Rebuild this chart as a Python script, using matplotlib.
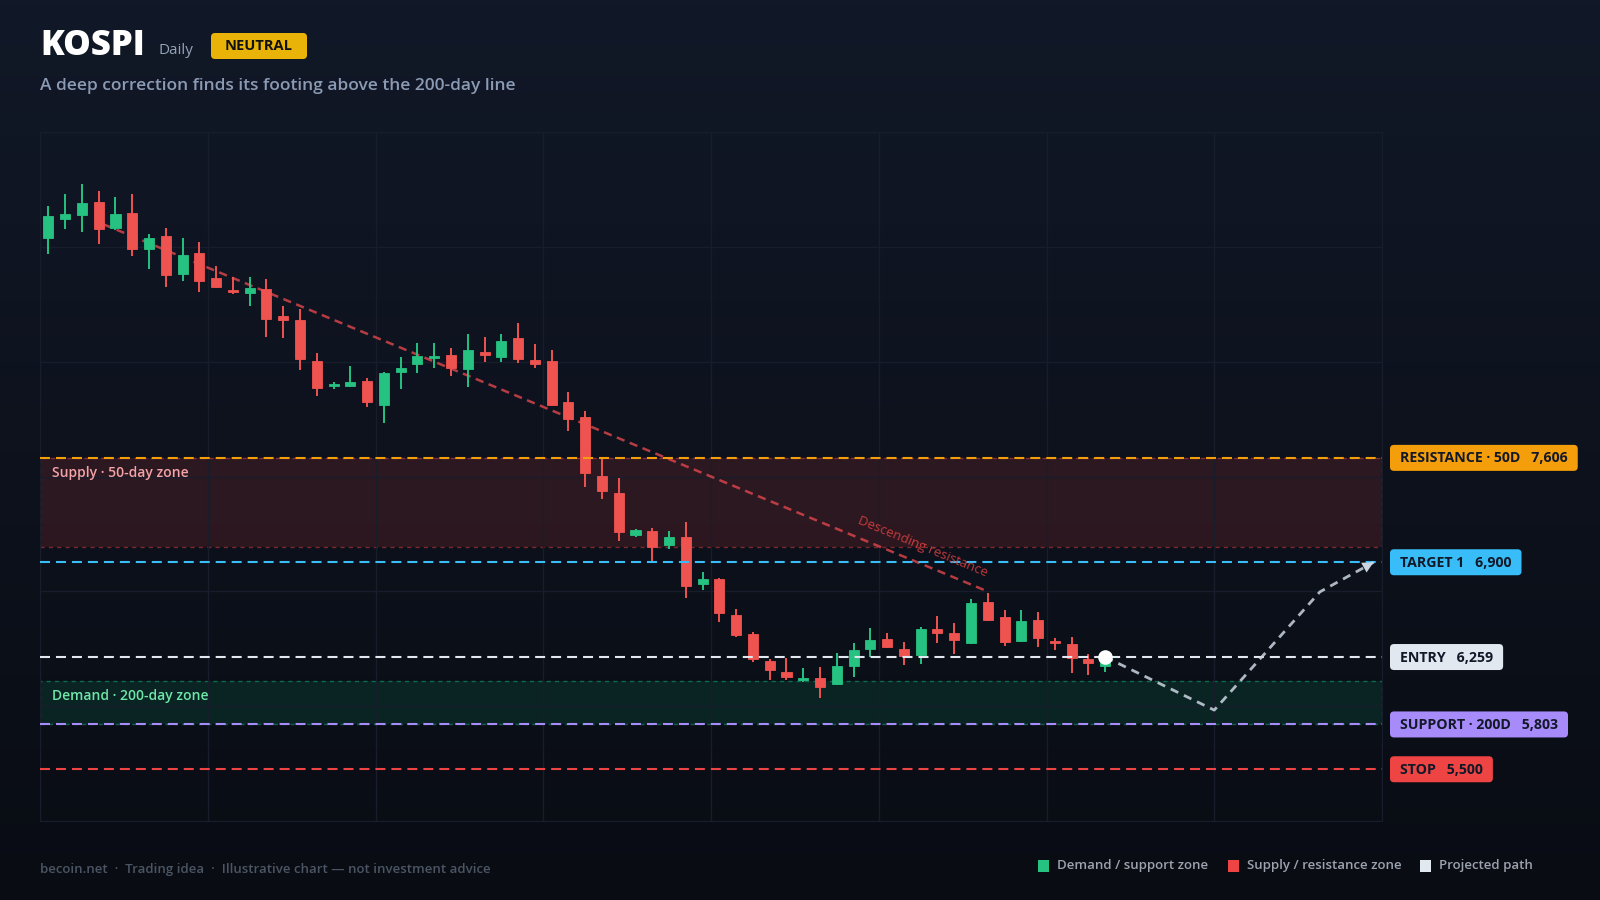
import numpy as np
import matplotlib
matplotlib.use("Agg")
import matplotlib.pyplot as plt
from matplotlib.patches import FancyBboxPatch, Rectangle
from matplotlib.transforms import IdentityTransform, blended_transform_factory

plt.rcParams["font.family"] = ["Open Sans", "DejaVu Sans"]
plt.rcParams["lines.scale_dashes"] = False

# ---- data (daily candles) ----
opens = [9090, 9223, 9252, 9335, 9162, 9261, 9016, 9106, 8851, 8995,
         8824, 8738, 8718, 8745, 8568, 8538, 8260, 8094, 8093, 8125,
         7963, 8190, 8240, 8279, 8299, 8204, 8321, 8285, 8418, 8267,
         8260, 7985, 7882, 7483, 7370, 7082, 7113, 7016, 7070, 6751,
         6787, 6541, 6415, 6230, 6158, 6102, 6117, 6075, 6200, 6315,
         6381, 6311, 6273, 6449, 6424, 6356, 6629, 6528, 6365, 6509,
         6367, 6345, 6244, 6198]
highs = [9310, 9390, 9455, 9410, 9367, 9390, 9117, 9158, 9092, 9065,
         8903, 8830, 8830, 8815, 8636, 8610, 8312, 8121, 8227, 8148,
         8188, 8285, 8380, 8380, 8346, 8441, 8421, 8441, 8515, 8373,
         8335, 8051, 7925, 7603, 7467, 7123, 7129, 7111, 7170, 6832,
         6795, 6584, 6426, 6244, 6250, 6183, 6194, 6284, 6352, 6453,
         6422, 6359, 6462, 6536, 6487, 6651, 6690, 6575, 6575, 6561,
         6390, 6397, 6277, 6275]
lows = [8982, 9151, 9133, 9054, 9150, 8968, 8885, 8763, 8799, 8729,
        8757, 8711, 8634, 8424, 8419, 8200, 8024, 8069, 8087, 7947,
        7843, 8073, 8177, 8211, 8161, 8082, 8256, 8252, 8249, 8215,
        7956, 7789, 7411, 7325, 7046, 7072, 6904, 6989, 6656, 6712,
        6498, 6397, 6228, 6104, 6104, 6092, 5980, 6070, 6126, 6259,
        6322, 6207, 6210, 6352, 6277, 6347, 6505, 6336, 6359, 6329,
        6306, 6153, 6137, 6155]
closes = [9239, 9256, 9333, 9155, 9256, 9020, 9094, 8840, 8975, 8799,
          8763, 8727, 8758, 8542, 8539, 8274, 8076, 8105, 8118, 7985,
          8177, 8217, 8294, 8290, 8215, 8333, 8303, 8394, 8272, 8240,
          7963, 7870, 7506, 7382, 7102, 7116, 7001, 7069, 6741, 6785,
          6555, 6408, 6244, 6169, 6122, 6112, 6054, 6196, 6307, 6376,
          6329, 6268, 6447, 6424, 6372, 6622, 6509, 6363, 6501, 6386,
          6352, 6250, 6217, 6259]

level_names = ["RESISTANCE · 50D", "TARGET 1", "ENTRY", "SUPPORT · 200D", "STOP"]
level_values = [7606, 6900, 6259, 5803, 5500]

supply_zone = [7000, 7606]
demand_zone = [5803, 6100]

trend_x = [3.3, 55.9]
trend_y = [9185, 6707]

path_x = [63, 69.5, 75.8, 79]
path_y = [6259, 5900, 6700, 6900]

legend_labels = ["Demand / support zone", "Supply / resistance zone", "Projected path"]

# ---- style ----
W, H = 1600, 900
GREEN = "#26c281"
RED = "#ef5350"
level_colors = ["#f59e0b", "#38bdf8", "#e2e8f0", "#a78bfa", "#ef4444"]
GRID = "#171d2a"

fig = plt.figure(figsize=(16, 9), dpi=100)

# background gradient
bg = fig.add_axes([0, 0, 1, 1], zorder=-10)
top = np.array([17, 24, 39]) / 255
bot = np.array([9, 12, 19]) / 255
t = np.linspace(0, 1, 256).reshape(-1, 1, 1)
bg.imshow(top + (bot - top) * t, aspect="auto", extent=[0, 1, 0, 1], origin="upper")
bg.axis("off")

ax = fig.add_axes([40 / W, 1 - 821 / H, 1342 / W, 689 / H], zorder=1)
ax.set_facecolor("none")
ax.set_xlim(-0.5, 79.5)
ax.set_ylim(5150, 9810)
ax.set_xticks(np.arange(-0.5, 80, 10))
ax.set_yticks(np.linspace(5150, 9810, 7))
ax.tick_params(length=0, labelbottom=False, labelleft=False)
ax.grid(True, color=GRID, lw=1.0)
for s in ax.spines.values():
    s.set_color(GRID)

# zones
blend = blended_transform_factory(ax.transAxes, ax.transData)
for zone, col, a in [(supply_zone, "#ef4444", 0.14), (demand_zone, "#10b981", 0.13)]:
    ax.add_patch(Rectangle((0, zone[0]), 1, zone[1] - zone[0], transform=blend,
                           facecolor=col, alpha=a, edgecolor="none", zorder=1))
    ax.add_patch(Rectangle((0, zone[0]), 1, zone[1] - zone[0], transform=blend,
                           facecolor="none", edgecolor=col, alpha=0.48, lw=1.0,
                           linestyle=(0, (3, 3)), zorder=1.2))
ax.annotate("Supply · 50-day zone", xy=(0.009, supply_zone[1]), xycoords=blend,
            xytext=(0, -11), textcoords="offset points", color="#f4a3a6", fontsize=10,
            fontweight="semibold", va="center", zorder=6)
ax.annotate("Demand · 200-day zone", xy=(0.009, demand_zone[1]), xycoords=blend,
            xytext=(0, -11), textcoords="offset points", color="#6ee7a8", fontsize=10,
            fontweight="semibold", va="center", zorder=6)

# descending resistance
ax.plot(trend_x, trend_y, color="#e0474c", alpha=0.8, lw=1.8, dashes=(6, 4), zorder=2)
p1 = ax.transData.transform((trend_x[0], trend_y[0]))
p2 = ax.transData.transform((trend_x[1], trend_y[1]))
ang = np.degrees(np.arctan2(p2[1] - p1[1], p2[0] - p1[0]))
lx = 52
ax.annotate("Descending resistance", xy=(lx, np.interp(lx, trend_x, trend_y)), xytext=(0, 8),
            textcoords="offset points", rotation=ang, rotation_mode="anchor",
            ha="center", va="bottom", color="#ef4444", alpha=0.8, fontsize=9.5, zorder=6)

# candles
x = np.arange(len(opens))
o, h, l, c = (np.array(a, dtype=float) for a in (opens, highs, lows, closes))
cols = np.where(c >= o, GREEN, RED)
ax.vlines(x, l, h, colors=cols, lw=1.4, zorder=3)
ax.bar(x, np.maximum(np.abs(c - o), 14), 0.6, bottom=np.minimum(o, c), color=cols,
       edgecolor=cols, lw=0.6, zorder=3.5)

# level lines
for v, col in zip(level_values, level_colors):
    ax.axhline(v, color=col, lw=1.5, dashes=(7.2, 4.3), zorder=4)

# projected path
ax.plot(path_x, path_y, color="#cbd5e1", alpha=0.85, lw=2.0, dashes=(6, 4.5), zorder=5)
tip = np.array([path_x[-1], path_y[-1]], dtype=float)
prev = np.array([path_x[-2], path_y[-2]], dtype=float)
ax.annotate("", xy=tip, xytext=tip - 0.2 * (tip - prev),
            arrowprops=dict(arrowstyle="-|>", color="#cbd5e1", lw=0, mutation_scale=20,
                            shrinkA=0, shrinkB=0), zorder=5)
ax.plot(x[-1], c[-1], "o", color="white", ms=9.5, zorder=7)

# right-hand level tags
fig.canvas.draw()
renderer = fig.canvas.get_renderer()
for name, v, col in zip(level_names, level_values, level_colors):
    ypx = ax.transData.transform((0, v))[1]
    txt = fig.text(1400 / W, (ypx - 0.5) / H, f"{name}   {v:,}", ha="left", va="center",
                   fontsize=10.2, fontweight="bold", color="#111827", zorder=11)
    bb = txt.get_window_extent(renderer)
    fig.patches.append(FancyBboxPatch((1390, ypx - 13), bb.width + 20, 26,
                                      boxstyle="round,pad=0,rounding_size=4",
                                      transform=IdentityTransform(), facecolor=col,
                                      edgecolor="none", zorder=10))

# header
fig.text(40 / W, 1 - 55 / H, "KOSPI", fontsize=25, fontweight=900, color="white", va="baseline")
fig.text(159 / W, 1 - 54 / H, "Daily", fontsize=11, color="#94a3b8", va="baseline")
fig.patches.append(FancyBboxPatch((211, H - 59), 96, 26, boxstyle="round,pad=0,rounding_size=4",
                                  transform=IdentityTransform(), facecolor="#eab308",
                                  edgecolor="none", zorder=10))
fig.text(259 / W, 1 - 46.5 / H, "NEUTRAL", fontsize=10.5, fontweight="bold", color="#111111",
         ha="center", va="center", zorder=11)
fig.text(40 / W, 1 - 86 / H, "A deep correction finds its footing above the 200-day line",
         fontsize=12.5, color="#8b9bb4", va="center", fontweight="semibold")

# footer
fig.text(40 / W, 1 - 869 / H, "becoin.net  ·  Trading idea  ·  Illustrative chart — not investment advice",
         fontsize=9.5, color="#4b5563", va="center", fontweight="semibold")
legend_colors = [GREEN, "#ef4444", "#e2e8f0"]
sq_x = [1038, 1228, 1420]
for lab, col, sx in zip(legend_labels, legend_colors, sq_x):
    fig.patches.append(Rectangle((sx, H - 872), 11, 12, transform=IdentityTransform(),
                                 facecolor=col, edgecolor="none"))
    fig.text((sx + 19) / W, 1 - 866 / H, lab, fontsize=9.5, color="#9ca3af", va="center",
             fontweight="semibold")

fig.savefig("out.png", dpi=100)
plt.close(fig)
